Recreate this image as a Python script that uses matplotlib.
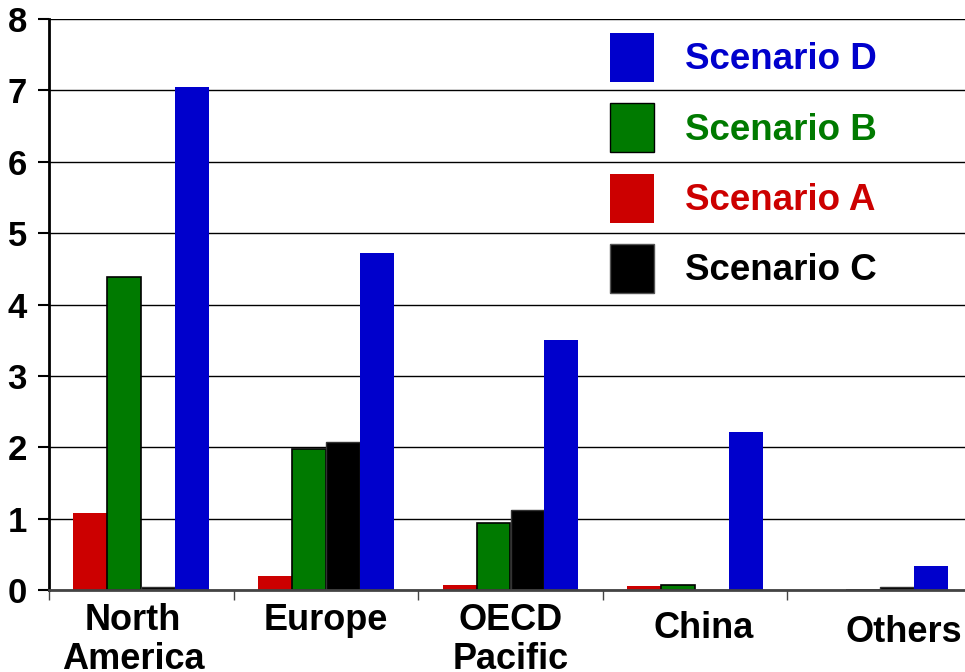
import numpy as np
import matplotlib.pyplot as plt
from matplotlib.patches import Patch
from matplotlib.transforms import ScaledTranslation

plt.rcParams['font.family'] = ['Liberation Sans', 'DejaVu Sans']
plt.rcParams['font.weight'] = 'bold'

# Regions and values
regions = ["North\nAmerica", "Europe", "OECD\nPacific", "China", "Others"]
scenario_a = [1.08, 0.20, 0.07, 0.05, 0.0]
scenario_b = [4.39, 1.97, 0.94, 0.07, 0.0]
scenario_c = [0.04, 2.07, 1.12, 0.0, 0.04]
scenario_d = [7.05, 4.72, 3.50, 2.21, 0.34]

red = '#CC0000'
green = '#007A00'
blue = '#0000CC'
black = '#000000'

fig = plt.figure(figsize=(9.65, 6.72), dpi=100)
ax = fig.add_axes([49 / 965, 82 / 672, 923 / 965, 571 / 672])

x = np.arange(len(regions))
w = 0.184
ax.bar(x - 1.5 * w, scenario_a, w, color=red, zorder=2)
ax.bar(x - 0.5 * w, scenario_b, w, color=green, edgecolor='black', linewidth=1.2, zorder=2)
ax.bar(x + 0.5 * w, scenario_c, w, color=black, edgecolor='#333333', linewidth=1, zorder=2)
ax.bar(x + 1.5 * w, scenario_d, w, color=blue, zorder=2)

ax.set_xlim(-0.5, 4.5)
ax.set_ylim(0, 8)
ax.set_yticks(np.arange(0, 9, 1))
ax.yaxis.grid(True, color='black', linewidth=1)
ax.set_axisbelow(True)

for s in ['top', 'right']:
    ax.spines[s].set_visible(False)
ax.spines['left'].set_linewidth(2)
ax.spines['bottom'].set_linewidth(2)
ax.spines['bottom'].set_color('#444444')

ax.tick_params(axis='y', length=8, width=1.5, pad=8, labelsize=25)
ax.set_xticks(x)
ax.set_xticklabels(regions, fontsize=26, linespacing=1.18)
ax.set_xticks(np.arange(-0.5, 5, 1), minor=True)
ax.tick_params(axis='x', which='major', length=0, pad=9)
ax.tick_params(axis='x', which='minor', length=7, width=1, color='#444444')

# nudge some labels the way they sit in the original
shifts = [(-8, 0), (0, 0), (0, 0), (9, 8), (24, 12)]
for lab, (dx, dy) in zip(ax.get_xticklabels(), shifts):
    lab.set_transform(lab.get_transform() + ScaledTranslation(dx / 100, -dy / 100, fig.dpi_scale_trans))

handles = [Patch(facecolor=blue), Patch(facecolor=green, edgecolor='black', linewidth=1),
           Patch(facecolor=red), Patch(facecolor=black, edgecolor='#555555', linewidth=1)]
labels = ["Scenario D", "Scenario B", "Scenario A", "Scenario C"]
ax.legend(handles, labels, loc='upper left', bbox_to_anchor=(610 / 965, 1 - 33 / 672),
          bbox_transform=fig.transFigure, frameon=False, fontsize=26.5,
          handlelength=1.2, handleheight=1.67, handletextpad=0.85, labelspacing=0.58,
          borderpad=0, borderaxespad=0, labelcolor=[blue, green, red, black])

fig.savefig('out.png', dpi=100)
